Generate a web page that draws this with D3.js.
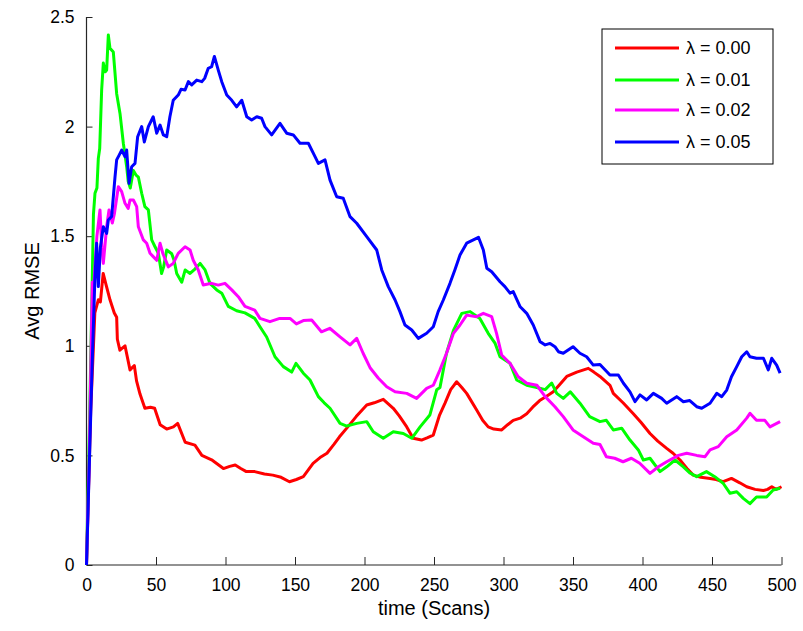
<!DOCTYPE html>
<html><head><meta charset="utf-8">
<script src="https://cdn.jsdelivr.net/npm/d3@7"></script>
<style>body{margin:0;background:#fff}svg{display:block}text{font-family:"Liberation Sans",Arial,sans-serif}</style>
</head><body><svg id="c" width="803" height="631"></svg>
<script>
const xTicks = [0,50,100,150,200,250,300,350,400,450,500];
const yTicks = [0,0.5,1,1.5,2,2.5];
const yTickLabels = ["0","0.5","1","1.5","2","2.5"];
const seriesNames = ["λ = 0.00","λ = 0.01","λ = 0.02","λ = 0.05"];
const seriesColors = ["#ff0000","#00ff00","#ff00ff","#0000ff"];

const lambda000 = [[0,0],[3,0.7],[6,1.15],[8.5,1.21],[10,1.2],[12,1.33],[14,1.28],[16.9,1.21],[20,1.15],[21.7,1.13],[22.2,1.03],[24,0.98],[27.7,1.0],[31.3,0.89],[34.4,0.91],[36,0.84],[38.5,0.78],[42,0.715],[46,0.72],[49,0.715],[53,0.64],[57.7,0.62],[62.5,0.63],[65.6,0.646],[71,0.56],[78,0.547],[83,0.5],[90,0.48],[98.5,0.44],[103,0.45],[107,0.456],[111,0.44],[115,0.426],[121,0.426],[128,0.415],[134,0.41],[140,0.4],[146,0.38],[151,0.39],[156,0.403],[163,0.464],[168,0.49],[173,0.51],[178,0.55],[182,0.585],[188,0.63],[194,0.677],[201.6,0.73],[207,0.74],[213.5,0.756],[220.7,0.715],[225,0.68],[230.4,0.63],[235,0.578],[241,0.57],[245,0.58],[249.5,0.593],[254,0.684],[258,0.74],[262,0.8],[266.3,0.836],[270,0.81],[273.5,0.783],[280.7,0.707],[285,0.66],[289,0.63],[293,0.62],[298.7,0.616],[303,0.64],[307,0.66],[312,0.67],[316.7,0.69],[321,0.72],[326,0.75],[331,0.77],[335.8,0.79],[340,0.82],[345.5,0.86],[352.7,0.88],[361,0.897],[365,0.88],[369.4,0.86],[376.6,0.82],[379,0.783],[386,0.74],[393.4,0.69],[399,0.65],[405.4,0.6],[411,0.565],[417.4,0.532],[422,0.51],[427,0.479],[432,0.44],[436.5,0.41],[442,0.4],[448.6,0.395],[453,0.39],[458,0.38],[464,0.395],[470,0.375],[475,0.357],[481,0.345],[487,0.34],[490,0.345],[493,0.357],[496,0.345],[500,0.357]];

const lambda001 = [[0,0],[2,0.6],[4,1.25],[5,1.6],[6.1,1.696],[7.5,1.72],[8.5,1.855],[9.5,1.9],[10.9,2.167],[12.1,2.29],[13.5,2.25],[14.5,2.258],[15.7,2.418],[16.9,2.357],[19.3,2.34],[21.7,2.15],[24.1,2.06],[26.5,1.924],[28.9,1.817],[30,1.75],[31.5,1.72],[33.7,1.8],[35.5,1.78],[37.3,1.77],[39.7,1.696],[42,1.635],[44.5,1.62],[46.9,1.483],[49.3,1.452],[51.7,1.422],[54,1.33],[55.5,1.36],[57.7,1.437],[61.3,1.42],[63,1.39],[64.9,1.33],[68.5,1.29],[71,1.346],[74.5,1.33],[78,1.35],[81.7,1.376],[85.3,1.346],[88.8,1.285],[93.7,1.255],[97.3,1.24],[102,1.18],[108,1.16],[114,1.15],[121,1.125],[124.8,1.087],[129.6,1.04],[135.6,0.95],[141.6,0.905],[147.6,0.88],[150.7,0.92],[156,0.875],[160.8,0.844],[166.8,0.768],[171,0.74],[175.2,0.715],[182.4,0.646],[187.2,0.634],[194.4,0.646],[201.6,0.654],[206.3,0.608],[213.5,0.578],[220.7,0.608],[227.9,0.6],[234,0.578],[240,0.63],[247,0.684],[252,0.8],[254.3,0.81],[259,0.966],[264,1.07],[270,1.148],[276,1.156],[283,1.125],[289,1.057],[294,1.011],[297.5,0.95],[304.7,0.92],[309.5,0.844],[316.7,0.82],[324,0.81],[330,0.8],[334.7,0.83],[338.3,0.783],[343,0.76],[348,0.79],[355,0.738],[362,0.677],[369.4,0.654],[374,0.66],[379,0.616],[385,0.624],[391,0.57],[397,0.525],[400.6,0.479],[405.4,0.487],[412.6,0.426],[417.4,0.448],[423.4,0.479],[429.4,0.448],[434,0.42],[439,0.403],[446,0.426],[452,0.403],[458,0.373],[463,0.327],[467.8,0.334],[472.5,0.304],[477.3,0.28],[482,0.31],[489.3,0.31],[494,0.342],[499,0.35]];

const lambda002 = [[0,0],[2,0.5],[4.2,1.29],[4.9,1.24],[6,1.35],[7.5,1.5],[9.7,1.62],[11,1.45],[12.1,1.376],[14.5,1.543],[16.2,1.62],[18.6,1.56],[20,1.6],[22.9,1.726],[25.3,1.703],[27.7,1.65],[30,1.627],[31.3,1.665],[33.7,1.665],[36.1,1.635],[37.3,1.543],[40.9,1.483],[43.3,1.468],[45.7,1.422],[48,1.407],[50.5,1.39],[52.9,1.468],[55,1.42],[58.9,1.36],[62.4,1.376],[66,1.422],[70.9,1.452],[74.5,1.437],[76.8,1.39],[80.4,1.346],[84,1.277],[90,1.285],[94.8,1.277],[99.6,1.285],[104.5,1.255],[109.2,1.224],[114,1.18],[121,1.163],[124.8,1.125],[132,1.11],[139,1.125],[146.4,1.125],[151,1.1],[156,1.115],[162,1.118],[169,1.064],[175,1.08],[182.4,1.041],[189.6,1.004],[194.4,1.034],[199,0.966],[204,0.9],[210,0.852],[216,0.813],[222,0.79],[230.4,0.783],[237.5,0.76],[244.7,0.806],[249.5,0.82],[254.3,0.89],[259,0.966],[264,1.057],[268.7,1.095],[273.5,1.14],[280.7,1.133],[285.5,1.148],[291.5,1.133],[295,1.057],[298.7,0.958],[304.7,0.92],[310.6,0.859],[316.7,0.829],[324,0.82],[330,0.768],[337,0.722],[343,0.677],[350,0.616],[357.4,0.585],[364.6,0.555],[369.4,0.55],[374,0.494],[380,0.487],[386,0.471],[392,0.487],[398,0.464],[405.4,0.418],[411.4,0.448],[417.4,0.471],[425.8,0.5],[431.8,0.51],[439,0.5],[445,0.494],[448.6,0.525],[454.5,0.54],[460.6,0.585],[467.8,0.616],[475,0.67],[477.3,0.692],[482,0.66],[488,0.66],[491.7,0.63],[499,0.654]];

const lambda005 = [[0,0],[2,0.45],[4,0.9],[6,1.3],[7.3,1.468],[8.5,1.27],[10,1.45],[12.1,1.543],[14.5,1.513],[15.7,1.574],[18.1,1.59],[20.5,1.77],[21.7,1.848],[23.5,1.87],[25.3,1.893],[27.7,1.863],[28.9,1.893],[30.6,1.741],[32.5,1.817],[34.9,1.832],[36.8,1.954],[39.7,2.0],[41.6,1.93],[44.5,2.0],[48,2.045],[50.5,1.97],[52.9,2.007],[55.3,1.962],[57.7,1.954],[60,2.045],[62.4,2.12],[66,2.144],[68,2.17],[70.9,2.167],[73.3,2.205],[75.7,2.19],[79.3,2.212],[82.9,2.205],[85,2.22],[87.6,2.266],[90,2.273],[92,2.32],[94.8,2.258],[97.3,2.205],[100.9,2.144],[104.5,2.12],[108,2.09],[111.7,2.12],[115.3,2.045],[118.8,2.03],[122.5,2.045],[126,2.038],[128.4,2.0],[133.2,1.962],[139.2,2.015],[144,1.97],[148.8,1.962],[153.6,1.924],[159.6,1.924],[164.4,1.863],[166.8,1.832],[171.6,1.848],[175.2,1.756],[180,1.68],[184.7,1.673],[189.6,1.589],[194.4,1.559],[201.6,1.498],[208.8,1.437],[212.4,1.346],[217.1,1.27],[222,1.209],[225.5,1.156],[229.1,1.095],[234,1.072],[238.7,1.034],[244.7,1.057],[249.5,1.087],[253,1.156],[256.7,1.209],[261.5,1.285],[265,1.346],[268.7,1.414],[273.5,1.468],[278.3,1.483],[282,1.495],[285.5,1.437],[288,1.354],[291.5,1.338],[297.5,1.292],[301,1.27],[304.7,1.24],[307,1.247],[312,1.178],[316.7,1.148],[321.4,1.095],[326.3,1.019],[330,1.004],[333.5,1.011],[337,0.996],[339.5,0.973],[343,0.966],[350,0.996],[355,0.966],[359.8,0.95],[364.6,0.912],[369.4,0.915],[376.6,0.867],[382.6,0.867],[386.3,0.829],[391,0.79],[394.6,0.745],[398.2,0.776],[403,0.753],[407.8,0.783],[413.8,0.76],[417.4,0.738],[424.6,0.768],[429.4,0.745],[434,0.75],[439,0.722],[442.6,0.715],[448.6,0.738],[453.4,0.783],[457,0.768],[460.6,0.798],[464,0.859],[467.8,0.905],[471.4,0.95],[475,0.973],[477.3,0.95],[482,0.943],[487,0.943],[490.5,0.89],[493,0.943],[496.5,0.912],[499,0.875]];

const allSeries = [lambda000, lambda001, lambda002, lambda005];

const svg = d3.select("#c");
const x = d3.scaleLinear().domain([0,500]).range([86.5,781.5]);
const y = d3.scaleLinear().domain([0,2.5]).range([565,17]);

// axes
const xAxis = d3.axisBottom(x).tickValues(xTicks).tickSize(-8).tickPadding(14).tickFormat(d3.format("d"));
const gx = svg.append("g").attr("transform","translate(0,565)").call(xAxis);
const yAxis = d3.axisLeft(y).tickValues(yTicks).tickSize(-6).tickPadding(12).tickFormat((d,i)=>yTickLabels[i]);
const gy = svg.append("g").attr("transform","translate(86.5,0)").call(yAxis);
[gx,gy].forEach(g=>{
  g.select(".domain").attr("stroke","#262626").attr("stroke-width",1.2);
  g.selectAll(".tick line").attr("stroke","#262626");
  g.selectAll(".tick text").attr("font-size",17.5).attr("fill","#000").attr("font-family",'"Liberation Sans",Arial,sans-serif');
});
gx.select(".domain").attr("d","M86.5,0H781.5");
gy.select(".domain").attr("d","M0,565V17");

// lines
const line = d3.line().x(d=>x(d[0])).y(d=>y(d[1]));
allSeries.forEach((s,i)=>{
  svg.append("path").datum(s).attr("d",line).attr("fill","none")
    .attr("stroke",seriesColors[i]).attr("stroke-width",3).attr("stroke-linejoin","round");
});

// axis labels
svg.append("text").attr("x",434).attr("y",615).attr("text-anchor","middle").attr("font-size",20).text("time (Scans)");
svg.append("text").attr("transform","translate(39,291) rotate(-90)").attr("text-anchor","middle").attr("font-size",20).text("Avg RMSE");

// legend
const lg = svg.append("g");
lg.append("rect").attr("x",602).attr("y",29).attr("width",171).attr("height",135).attr("fill","#fff").attr("stroke","#000").attr("stroke-width",1);
const rowY = [48,80,110,142];
seriesNames.forEach((n,i)=>{
  lg.append("line").attr("x1",615).attr("x2",679).attr("y1",rowY[i]).attr("y2",rowY[i]).attr("stroke",seriesColors[i]).attr("stroke-width",3);
  lg.append("text").attr("x",686).attr("y",rowY[i]).attr("dy","0.36em").attr("font-size",18).text(n);
});
</script></body></html>
